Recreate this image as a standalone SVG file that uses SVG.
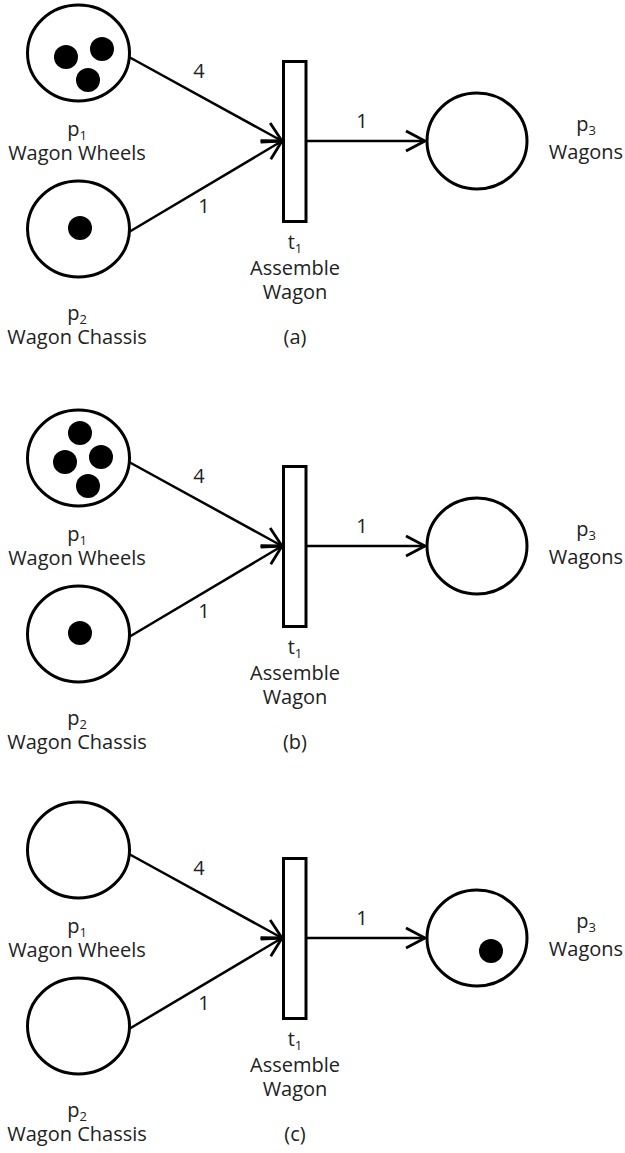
<svg xmlns="http://www.w3.org/2000/svg" width="625" height="1153" viewBox="0 0 625 1153">
  <style>
    .place { fill: #ffffff; stroke: #000000; stroke-width: 3; }
    .trans { fill: #ffffff; stroke: #000000; stroke-width: 3; }
    .token { fill: #000000; }
    .arc { fill: none; stroke: #000000; stroke-width: 2.5; marker-end: url(#chevron); }
    text { font-family: "Open Sans", "Liberation Sans", sans-serif; font-size: 20px; fill: #222222; text-anchor: middle; }
    .sub { font-size: 13px; }
  </style>
  <defs>
    <marker id="chevron" markerUnits="userSpaceOnUse" viewBox="-22 -12 24 24" refX="0" refY="0" markerWidth="24" markerHeight="24" orient="auto" overflow="visible">
      <path d="M-19,-10 L0,0 L-19,10" fill="none" stroke="#000000" stroke-width="2.8" stroke-linejoin="miter"/>
    </marker>
  </defs>
  <rect width="625" height="1153" fill="#ffffff"/>

  <!-- (a) initial marking: 3 wheels, 1 chassis -->
  <g id="net-a">
    <g id="a-arcs">
      <line class="arc" x1="129" y1="57" x2="282" y2="141"/>
      <line class="arc" x1="129" y1="232" x2="282" y2="141"/>
      <line class="arc" x1="306" y1="141" x2="425" y2="141"/>
      <text x="199" y="78">4</text>
      <text x="204" y="213">1</text>
      <text x="362" y="128">1</text>
    </g>
    <g id="a-p1">
      <ellipse class="place" cx="78.5" cy="53" rx="51" ry="48"/>
      <circle class="token" cx="66" cy="57" r="12"/>
      <circle class="token" cx="102" cy="49" r="12"/>
      <circle class="token" cx="88" cy="80" r="12"/>
      <text x="77" y="136">p<tspan class="sub" dy="4">1</tspan></text>
      <text x="77" y="160">Wagon Wheels</text>
    </g>
    <g id="a-p2">
      <ellipse class="place" cx="78.5" cy="229" rx="51" ry="48"/>
      <circle class="token" cx="80" cy="228" r="12"/>
      <text x="77" y="320">p<tspan class="sub" dy="4">2</tspan></text>
      <text x="77" y="344">Wagon Chassis</text>
    </g>
    <g id="a-t1">
      <rect class="trans" x="283.5" y="61.5" width="22.5" height="160"/>
      <text x="295" y="249">t<tspan class="sub" dy="4">1</tspan></text>
      <text x="295" y="275">Assemble</text>
      <text x="295" y="299">Wagon</text>
    </g>
    <g id="a-p3">
      <ellipse class="place" cx="477" cy="141" rx="50" ry="48"/>
      <text x="586" y="131">p<tspan class="sub" dy="4">3</tspan></text>
      <text x="586" y="159">Wagons</text>
    </g>
    <text x="295" y="344">(a)</text>
  </g>

  <!-- (b) four wheels available, transition enabled -->
  <g id="net-b" transform="translate(0,405)">
    <g id="b-arcs">
      <line class="arc" x1="129" y1="57" x2="282" y2="141"/>
      <line class="arc" x1="129" y1="232" x2="282" y2="141"/>
      <line class="arc" x1="306" y1="141" x2="425" y2="141"/>
      <text x="199" y="78">4</text>
      <text x="204" y="213">1</text>
      <text x="362" y="128">1</text>
    </g>
    <g id="b-p1">
      <ellipse class="place" cx="78.5" cy="53" rx="51" ry="48"/>
      <circle class="token" cx="80" cy="28" r="12"/>
      <circle class="token" cx="65" cy="57" r="12"/>
      <circle class="token" cx="101" cy="52" r="12"/>
      <circle class="token" cx="88" cy="81" r="12"/>
      <text x="77" y="136">p<tspan class="sub" dy="4">1</tspan></text>
      <text x="77" y="160">Wagon Wheels</text>
    </g>
    <g id="b-p2">
      <ellipse class="place" cx="78.5" cy="229" rx="51" ry="48"/>
      <circle class="token" cx="80" cy="228" r="12"/>
      <text x="77" y="320">p<tspan class="sub" dy="4">2</tspan></text>
      <text x="77" y="344">Wagon Chassis</text>
    </g>
    <g id="b-t1">
      <rect class="trans" x="283.5" y="61.5" width="22.5" height="160"/>
      <text x="295" y="249">t<tspan class="sub" dy="4">1</tspan></text>
      <text x="295" y="275">Assemble</text>
      <text x="295" y="299">Wagon</text>
    </g>
    <g id="b-p3">
      <ellipse class="place" cx="477" cy="141" rx="50" ry="48"/>
      <text x="586" y="131">p<tspan class="sub" dy="4">3</tspan></text>
      <text x="586" y="159">Wagons</text>
    </g>
    <text x="295" y="344">(b)</text>
  </g>

  <!-- (c) after firing t1: one wagon produced -->
  <g id="net-c" transform="translate(0,797)">
    <g id="c-arcs">
      <line class="arc" x1="129" y1="57" x2="282" y2="141"/>
      <line class="arc" x1="129" y1="232" x2="282" y2="141"/>
      <line class="arc" x1="306" y1="141" x2="425" y2="141"/>
      <text x="199" y="78">4</text>
      <text x="204" y="213">1</text>
      <text x="362" y="128">1</text>
    </g>
    <g id="c-p1">
      <ellipse class="place" cx="78.5" cy="53" rx="51" ry="48"/>
      <text x="77" y="136">p<tspan class="sub" dy="4">1</tspan></text>
      <text x="77" y="160">Wagon Wheels</text>
    </g>
    <g id="c-p2">
      <ellipse class="place" cx="78.5" cy="229" rx="51" ry="48"/>
      <text x="77" y="320">p<tspan class="sub" dy="4">2</tspan></text>
      <text x="77" y="344">Wagon Chassis</text>
    </g>
    <g id="c-t1">
      <rect class="trans" x="283.5" y="61.5" width="22.5" height="160"/>
      <text x="295" y="249">t<tspan class="sub" dy="4">1</tspan></text>
      <text x="295" y="275">Assemble</text>
      <text x="295" y="299">Wagon</text>
    </g>
    <g id="c-p3">
      <ellipse class="place" cx="477" cy="141" rx="50" ry="48"/>
      <circle class="token" cx="491" cy="154" r="12"/>
      <text x="586" y="131">p<tspan class="sub" dy="4">3</tspan></text>
      <text x="586" y="159">Wagons</text>
    </g>
    <text x="295" y="344">(c)</text>
  </g>
</svg>
